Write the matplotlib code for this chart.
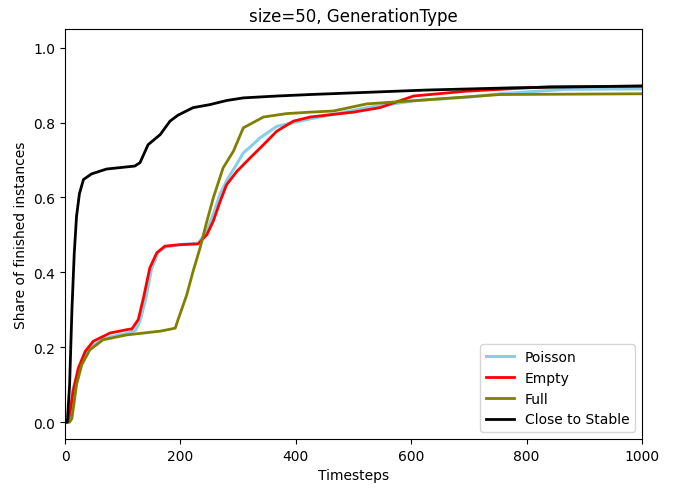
import numpy as np
import matplotlib
matplotlib.use('Agg')
import matplotlib.pyplot as plt

# (timestep, share of finished instances)
poisson_t = [0, 5, 9, 14, 20, 29, 43, 66, 90, 110, 122, 130, 140, 150, 162, 175, 200, 231, 246,
             258, 269, 282, 298, 309, 321, 338, 367, 396, 425, 465, 523, 609, 700, 754, 869, 1000]
poisson_v = [0.0, 0.0, 0.02, 0.09, 0.12, 0.16, 0.198, 0.222, 0.232, 0.238, 0.245, 0.27, 0.33, 0.41,
             0.455, 0.468, 0.474, 0.478, 0.51, 0.56, 0.61, 0.65, 0.69, 0.719, 0.735, 0.759, 0.79,
             0.80, 0.81, 0.822, 0.84, 0.859, 0.868, 0.877, 0.889, 0.89]

empty_t = [0, 5, 9, 14, 23, 35, 49, 78, 107, 116, 127, 136, 147, 159, 173, 199, 231, 246, 257,
           269, 280, 298, 321, 344, 367, 396, 425, 500, 546, 604, 696, 840, 1000]
empty_v = [0.0, 0.0, 0.029, 0.082, 0.144, 0.189, 0.216, 0.238, 0.247, 0.249, 0.274, 0.332, 0.412,
           0.452, 0.47, 0.474, 0.476, 0.501, 0.537, 0.59, 0.634, 0.67, 0.706, 0.741, 0.777, 0.804,
           0.815, 0.828, 0.84, 0.871, 0.884, 0.896, 0.897]

full_t = [0, 8, 12, 20, 29, 43, 66, 107, 165, 191, 196, 211, 222, 234, 246, 257, 274, 292, 309,
          326, 344, 384, 425, 465, 523, 609, 754, 1000]
full_v = [0.0, 0.0, 0.01, 0.1, 0.153, 0.193, 0.22, 0.233, 0.243, 0.251, 0.274, 0.34, 0.403,
          0.465, 0.537, 0.599, 0.679, 0.724, 0.786, 0.80, 0.815, 0.824, 0.828, 0.831, 0.85,
          0.859, 0.875, 0.877]

stable_t = [0, 4, 8, 12, 16, 20, 25, 32, 46, 72, 121, 130, 144, 165, 182, 196, 222, 251, 280,
            309, 367, 425, 627, 777, 1000]
stable_v = [0.0, 0.0, 0.1, 0.3, 0.45, 0.55, 0.61, 0.648, 0.663, 0.676, 0.684, 0.693, 0.741,
            0.768, 0.804, 0.82, 0.84, 0.848, 0.859, 0.866, 0.871, 0.875, 0.887, 0.893, 0.898]

fig = plt.figure(figsize=(6.75, 4.89), dpi=100)
ax = fig.add_subplot(111)
fig.subplots_adjust(left=65 / 675, right=642 / 675, top=1 - 30 / 489, bottom=1 - 440 / 489)

ax.plot(poisson_t, poisson_v, color='skyblue', lw=2.2, label='Poisson')
ax.plot(empty_t, empty_v, color='red', lw=2, label='Empty')
ax.plot(full_t, full_v, color='olive', lw=2, label='Full')
ax.plot(stable_t, stable_v, color='black', lw=2, label='Close to Stable')

ax.set_xlim(0, 1000)
ax.set_ylim(-0.045, 1.05)
ax.set_xticks([0, 200, 400, 600, 800, 1000])
ax.set_yticks([0.0, 0.2, 0.4, 0.6, 0.8, 1.0])
ax.set_title('size=50, GenerationType', fontsize=12)
ax.set_xlabel('Timesteps')
ax.set_ylabel('Share of finished instances')
ax.legend(loc='lower right')

fig.savefig('out.png', dpi=100)
